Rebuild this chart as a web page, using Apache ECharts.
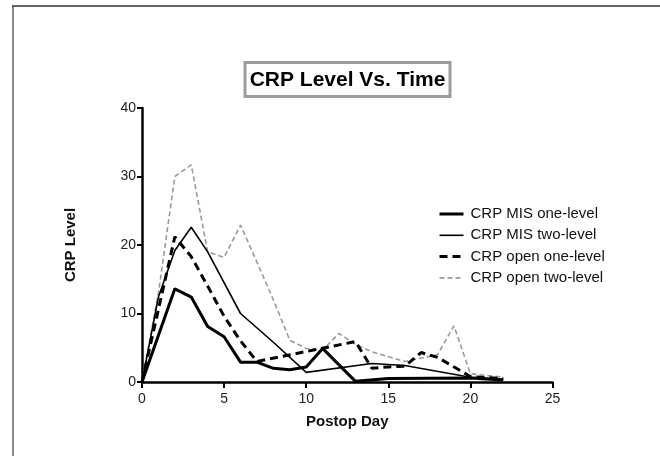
<!DOCTYPE html>
<html>
<head>
<meta charset="utf-8">
<script src="https://cdn.jsdelivr.net/npm/echarts@6/dist/echarts.min.js"></script>
<style>
html,body{margin:0;padding:0;background:#fff;}
#chart{width:660px;height:456px;}
</style>
</head>
<body>
<div id="chart"></div>
<script>
// Data
var seriesNames = ['CRP MIS one-level', 'CRP MIS two-level', 'CRP open one-level', 'CRP open two-level'];

var misOneDays = [0, 2, 3, 4, 5, 6, 7, 8, 9, 10, 11, 13, 15, 20, 22];
var misOneVals = [0, 13.6, 12.4, 8.1, 6.6, 2.9, 2.9, 2.0, 1.8, 2.2, 4.9, 0.1, 0.5, 0.6, 0.3];

var misTwoDays = [0, 1, 2, 3, 4, 6, 8, 10, 14, 16, 20, 22];
var misTwoVals = [0, 12.4, 19.2, 22.6, 19.0, 10.0, 5.8, 1.4, 2.7, 2.4, 0.7, 0.4];

var openOneDays = [0, 2, 3, 4, 5, 6, 7, 13, 14, 15, 16, 17, 18, 20, 22];
var openOneVals = [0, 21.2, 18.3, 14.0, 9.6, 6.0, 3.0, 5.9, 2.0, 2.2, 2.3, 4.3, 3.6, 0.8, 0.5];

var openTwoDays = [0, 1, 2, 3, 4, 5, 6, 7, 8, 9, 10, 11, 12, 13, 14, 16, 18, 19, 20, 22];
var openTwoVals = [0, 13, 30, 31.7, 19.0, 18.2, 22.9, 17.5, 12.0, 6.1, 4.9, 4.7, 7.1, 5.5, 4.4, 3.0, 4.0, 8.2, 1.2, 0.7];

var xTicks = [0, 5, 10, 15, 20, 25];
var yTicks = [0, 10, 20, 30, 40];

function pairs(d, v) { return d.map(function (x, i) { return [x, v[i]]; }); }

var FONT = 'Liberation Sans, Arial, sans-serif';
var styles = [
  {color: '#000', width: 3, type: 'solid'},
  {color: '#000', width: 1.6, type: 'solid'},
  {color: '#000', width: 3, type: [8, 5]},
  {color: '#9a9a9a', width: 1.6, type: [5, 3]}
];
var chart = echarts.init(document.getElementById('chart'), null, {renderer: 'canvas'});

chart.setOption({
  backgroundColor: '#ffffff',
  animation: false,
  graphic: [
    {type: 'line', shape: {x1: 13, y1: 6, x2: 13, y2: 456}, style: {stroke: '#8a8a8a', lineWidth: 2}},
    {type: 'line', shape: {x1: 12, y1: 6, x2: 660, y2: 6}, style: {stroke: '#333', lineWidth: 1.5}},
    {type: 'rect', shape: {x: 245, y: 62.5, width: 205, height: 34}, style: {fill: '#fff', stroke: '#9c9c9c', lineWidth: 3}},
    {type: 'text', x: 347.5, y: 80, style: {text: 'CRP Level Vs. Time', font: 'bold 21px ' + FONT, fill: '#000', textAlign: 'center', textVerticalAlign: 'middle'}}
  ],
  grid: {left: 142, right: 107.5, top: 108, bottom: 74, containLabel: false},
  legend: {
    orient: 'vertical',
    left: 433,
    top: 201.5,
    itemWidth: 24,
    itemHeight: 14,
    itemGap: 6.3,
    data: seriesNames.map(function (n, i) {
      return {name: n, lineStyle: {color: styles[i].color, width: styles[i].width, type: styles[i].type}};
    }),
    itemStyle: {opacity: 0, borderWidth: 0},
    textStyle: {fontFamily: FONT, fontSize: 15, color: '#111', lineHeight: 14, padding: [0, 0, 0, 2]}
  },
  xAxis: {
    type: 'value', min: 0, max: 25, interval: 5,
    name: 'Postop Day', nameLocation: 'middle', nameGap: 32,
    nameTextStyle: {fontFamily: FONT, fontSize: 15, fontWeight: 'bold', color: '#111'},
    axisLine: {show: true, onZero: false, lineStyle: {color: '#000', width: 2.5}},
    axisTick: {show: true, length: 6, lineStyle: {color: '#000', width: 2}},
    axisLabel: {fontFamily: FONT, fontSize: 14, color: '#222', margin: 10,
      formatter: function (v) { return xTicks.indexOf(v) >= 0 ? String(v) : ''; }},
    splitLine: {show: false}
  },
  yAxis: {
    type: 'value', min: 0, max: 40, interval: 10,
    name: 'CRP Level', nameLocation: 'middle', nameGap: 64,
    nameTextStyle: {fontFamily: FONT, fontSize: 15, fontWeight: 'bold', color: '#111'},
    axisLine: {show: true, onZero: false, lineStyle: {color: '#000', width: 2.5}},
    axisTick: {show: true, length: 5, lineStyle: {color: '#000', width: 2}},
    axisLabel: {fontFamily: FONT, fontSize: 14, color: '#222', margin: 6,
      formatter: function (v) { return yTicks.indexOf(v) >= 0 ? String(v) : ''; }},
    splitLine: {show: false}
  },
  series: [
    {name: seriesNames[3], type: 'line', symbol: 'none', z: 1,
      data: pairs(openTwoDays, openTwoVals),
      itemStyle: {color: styles[3].color}, lineStyle: styles[3]},
    {name: seriesNames[2], type: 'line', symbol: 'none', z: 2,
      data: pairs(openOneDays, openOneVals),
      itemStyle: {color: styles[2].color}, lineStyle: styles[2]},
    {name: seriesNames[1], type: 'line', symbol: 'none', z: 3,
      data: pairs(misTwoDays, misTwoVals),
      itemStyle: {color: styles[1].color}, lineStyle: styles[1]},
    {name: seriesNames[0], type: 'line', symbol: 'none', z: 4,
      data: pairs(misOneDays, misOneVals),
      itemStyle: {color: styles[0].color}, lineStyle: styles[0]}
  ]
});
</script>
</body>
</html>
